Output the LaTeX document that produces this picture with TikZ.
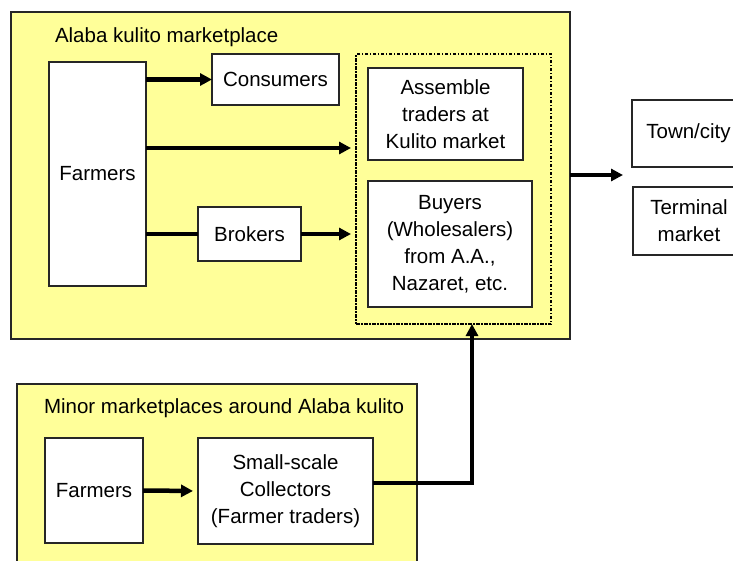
\documentclass[tikz,border=0pt]{standalone}
\usepackage{fontspec}
\setmainfont{Liberation Sans}
\usetikzlibrary{arrows.meta}
\definecolor{mktyellow}{HTML}{FFFF99}
\begin{document}
\begin{tikzpicture}[x=1pt,y=-1pt,
  every node/.style={font=\fontsize{20.5}{27}\selectfont, align=center, inner sep=0pt, outer sep=0pt},
  market/.style={draw=black!85, line width=1.8pt, fill=mktyellow},
  item/.style={draw=black!85, line width=1.4pt, fill=white},
  frame/.style={draw=black, line width=2.6pt, dash pattern=on 3.5pt off 1.5pt on 1.5pt off 1.5pt},
  arr/.style={line width=4.5pt, -{Triangle[length=12pt,width=12pt]}},
  link/.style={line width=4.5pt}]
\useasboundingbox (0,0) rectangle (733,560);

% market areas
\node[market, minimum width=559pt, minimum height=327pt] (top) at (290.5,175.5) {};
\node[market, minimum width=400pt, minimum height=216pt] (bot) at (217,492) {};
\node[anchor=base west] (toptitle) at (55,42) {Alaba kulito marketplace};
\node[anchor=base west] (bottitle) at (44,413) {Minor marketplaces around Alaba kulito};

% Alaba kulito marketplace
\node[item, minimum width=97pt, minimum height=224pt] (farmT) at (97.5,174) {Farmers};
\node[item, minimum width=127pt, minimum height=51pt] (cons) at (275.5,79.5) {Consumers};
\node[item, minimum width=103pt, minimum height=54pt] (brok) at (249.5,234) {Brokers};
\node[frame, minimum width=195pt, minimum height=270pt] (grp) at (453.5,189) {};
\node[item, minimum width=155pt, minimum height=92pt] (asm) at (445.5,114) {Assemble\\traders at\\Kulito market};
\node[item, minimum width=164pt, minimum height=126pt] (buy) at (450,244) {Buyers\\(Wholesalers)\\from A.A.,\\Nazaret, etc.};

% destinations
\node[item, minimum width=113pt, minimum height=67pt] (town) at (688.5,133.5) {Town/city};
\node[item, minimum width=112pt, minimum height=68pt] (term) at (689,221) {Terminal\\market};

% minor marketplaces
\node[item, minimum width=98pt, minimum height=105pt] (farmB) at (94,490.5) {Farmers};
\node[item, minimum width=175pt, minimum height=106pt] (small) at (285.5,491) {Small-scale\\Collectors\\(Farmer traders)};

% flows
\coordinate (grpin) at (351,148);
\coordinate (out) at (623,175);
\coordinate (turn) at (472,483);
\draw[arr] (farmT.east |- cons) -- (cons.west);
\draw[arr] (farmT.east |- grpin) -- (grpin);
\draw[link] (farmT.east |- brok) -- (brok.west);
\draw[arr] (brok.east) -- (brok.east -| grpin);
\draw[arr] (top.east |- out) -- (out);
\draw[arr, shorten >=5pt] (farmB.east) -- (small.west);
\draw[arr] (small.east |- turn) -- (turn) -- (turn |- grp.south);
\end{tikzpicture}
\end{document}
